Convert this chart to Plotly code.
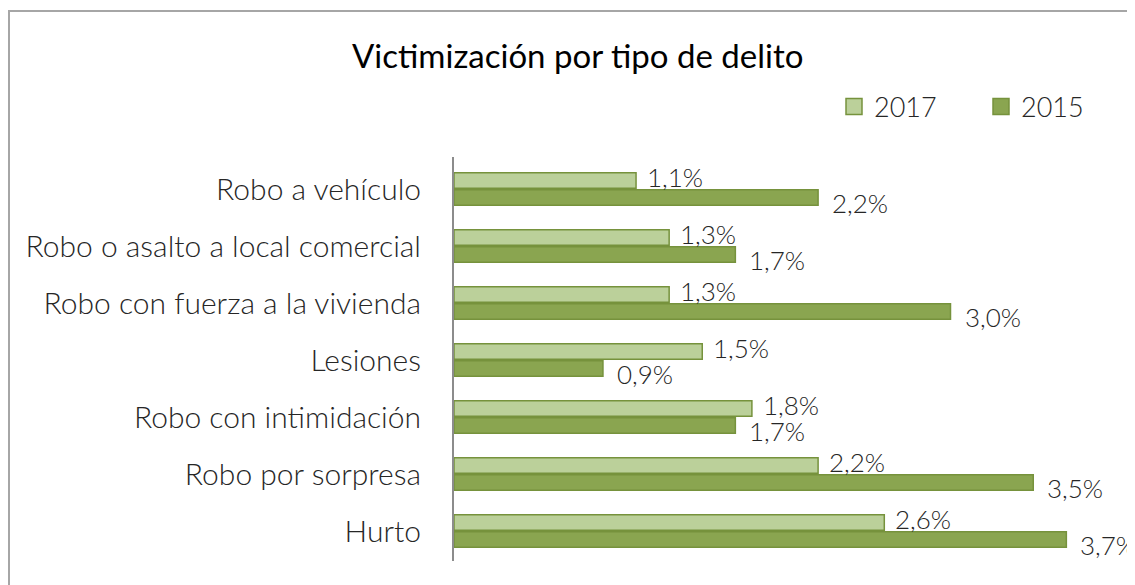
import plotly.graph_objects as go

categories = ["Robo a vehículo", "Robo o asalto a local comercial", "Robo con fuerza a la vivienda",
              "Lesiones", "Robo con intimidación", "Robo por sorpresa", "Hurto"]
values_2017 = [1.1, 1.3, 1.3, 1.5, 1.8, 2.2, 2.6]
values_2015 = [2.2, 1.7, 3.0, 0.9, 1.7, 3.5, 3.7]
series_names = ["2017", "2015"]
title_text = "Victimización por tipo de delito"

FONT = "Lato"
OFF = 8  # page body margin
W, H = 1135, 585
PX0, PX1, PY0, PY1 = 454, 1135, 157, 561
L, R = PX0 - OFF, W - (PX1 - OFF)
T, B = PY0 - OFF, H - (PY1 - OFF)
pw, ph = W - L - R, H - T - B

def px(xw):
    return (xw - OFF - L) / pw

def py(yw):
    return (H - B - (yw - OFF)) / ph

colors = ["#BBD09A", "#8AA550"]
edge = "#76923C"
series_values = [values_2017, values_2015]

fig = go.Figure()
for name, vals, col in zip(series_names, series_values, colors):
    fig.add_trace(go.Bar(name=name, y=categories, x=vals, orientation="h", legendgroup=name,
                         showlegend=False,
                         marker=dict(color=col, line=dict(color=edge, width=1.5))))
# legend entries with larger square swatches
for name, col in zip(series_names, colors):
    fig.add_trace(go.Scatter(name=name, x=[None], y=[None], mode="markers", legendgroup=name,
                             marker=dict(symbol="square", size=16, color=col,
                                         line=dict(color=edge, width=1.5))))

def fmt(v):
    return f"{v:.1f}".replace(".", ",") + "%"

lab_font = dict(family=FONT, size=26, color="#262626", weight=300)
ann = []
for cat, v in zip(categories, values_2017):
    ann.append(dict(x=v, y=cat, xref="x", yref="y", text=fmt(v), showarrow=False,
                    xanchor="left", yanchor="middle", xshift=9, yshift=12, font=lab_font))
for cat, v in zip(categories, values_2015):
    ann.append(dict(x=v, y=cat, xref="x", yref="y", text=fmt(v), showarrow=False,
                    xanchor="left", yanchor="middle", xshift=12, yshift=-14, font=lab_font))
ann.append(dict(x=px(577), y=py(55), xref="paper", yref="paper",
                text=title_text, showarrow=False, xanchor="center", yanchor="middle",
                font=dict(family=FONT, size=33, color="#000000", weight=400)))

fig.update_layout(
    width=W, height=H,
    margin=dict(l=L, r=R, t=T, b=B, autoexpand=False),
    paper_bgcolor="white", plot_bgcolor="white",
    barmode="group", bargap=0.4, bargroupgap=0.1,
    annotations=ann,
    showlegend=True,
    legend=dict(orientation="h", x=px(834), y=py(107),
                xanchor="left", yanchor="middle", traceorder="normal",
                entrywidth=102, entrywidthmode="pixels",
                font=dict(family=FONT, size=27, color="#262626", weight=300),
                bgcolor="rgba(0,0,0,0)"),
    xaxis=dict(range=[0, (PX1 - PX0) / 165.5], showgrid=False, showticklabels=False,
               zeroline=False, showline=False, fixedrange=True),
    yaxis=dict(autorange="reversed", showgrid=False, showline=True, linecolor="#8C8C8C",
               linewidth=2, ticks="", ticklabelstandoff=25,
               tickfont=dict(family=FONT, size=30, color="#262626", weight=300)),
    shapes=[dict(type="rect", xref="paper", yref="paper",
                 x0=px(9), x1=px(W + 30), y0=py(H + 30), y1=py(11),
                 line=dict(color="#A6A6A6", width=2), fillcolor="rgba(0,0,0,0)", layer="below")],
)

fig.write_html("out.html")
